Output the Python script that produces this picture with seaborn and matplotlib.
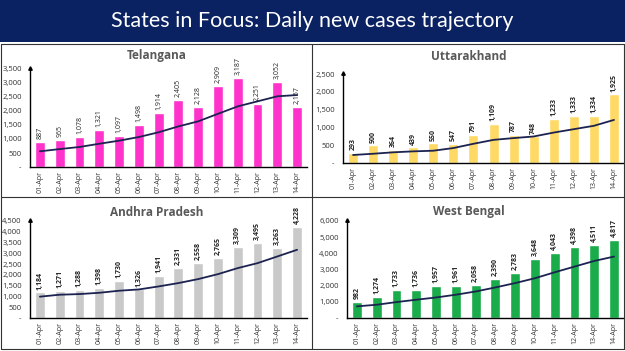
import numpy as np
import seaborn as sns
import matplotlib.pyplot as plt
from matplotlib.patches import Rectangle
from matplotlib.lines import Line2D
from matplotlib.ticker import FuncFormatter

sns.set_theme(style="white")
plt.rcParams["font.family"] = ["Open Sans", "DejaVu Sans"]

dates = ["01-Apr", "02-Apr", "03-Apr", "04-Apr", "05-Apr", "06-Apr", "07-Apr",
         "08-Apr", "09-Apr", "10-Apr", "11-Apr", "12-Apr", "13-Apr", "14-Apr"]

telangana = [887, 965, 1078, 1321, 1097, 1498, 1914, 2405, 2128, 2909, 3187, 2251, 3052, 2157]
telangana_trend = [560, 640, 715, 830, 940, 1070, 1240, 1450, 1630, 1900, 2165, 2345, 2525, 2570]

uttarakhand = [293, 500, 364, 439, 550, 547, 791, 1109, 787, 748, 1233, 1333, 1334, 1925]
uttarakhand_trend = [225, 260, 300, 327, 345, 420, 540, 650, 700, 745, 855, 950, 1045, 1210]

andhra = [1184, 1271, 1288, 1398, 1730, 1326, 1941, 2331, 2558, 2765, 3309, 3495, 3263, 4228]
andhra_trend = [990, 1080, 1110, 1170, 1265, 1325, 1465, 1620, 1805, 2035, 2315, 2545, 2855, 3165]

bengal = [982, 1274, 1733, 1736, 1957, 1961, 2058, 2390, 2783, 3648, 4043, 4398, 4511, 4817]
bengal_trend = [720, 820, 985, 1130, 1270, 1440, 1640, 1890, 2160, 2460, 2830, 3180, 3530, 3800]

W, H = 625, 351
fig = plt.figure(figsize=(6.25, 3.51), dpi=100)
fig.patch.set_facecolor("white")

# header band
fig.add_artist(Rectangle((0, 1 - 42 / H), 1, 42 / H, transform=fig.transFigure,
                         facecolor="#0b2262", edgecolor="none"))
fig.text(0.5, 1 - 21 / H, "States in Focus: Daily new cases trajectory", color="white",
         fontsize=15.5, ha="center", va="center", family=["Lato", "DejaVu Sans"])

# panel frame lines
def fline(x0, y0, x1, y1):
    fig.add_artist(Line2D([x0 / W, x1 / W], [1 - y0 / H, 1 - y1 / H],
                          transform=fig.transFigure, color="#333333", lw=0.8))

fline(1, 44, 624, 44)
fline(1, 44, 1, 349)
fline(624, 44, 624, 349)
fline(1, 349, 624, 349)
fline(312, 44, 312, 349)
fline(1, 197, 624, 197)

fmt = FuncFormatter(lambda v, p: "-" if v == 0 else f"{int(v):,}")

panels = [
    ("Telangana", telangana, telangana_trend, "#ff33cc", 3500, 500, False,
     (30, 167, 307, 69), (157, 56)),
    ("Uttarakhand", uttarakhand, uttarakhand_trend, "#ffd966", 2500, 500, True,
     (343, 163, 624, 74), (469, 56)),
    ("Andhra Pradesh", andhra, andhra_trend, "#c9c9c9", 4500, 500, True,
     (30, 318, 307, 221), (157, 212)),
    ("West Bengal", bengal, bengal_trend, "#1aab4b", 6000, 1000, True,
     (347, 318, 624, 221), (469, 211)),
]

for name, vals, trend, col, ymax, step, bold, box, tpos in panels:
    x0, yb, x1, yt = box
    ax = fig.add_axes([x0 / W, 1 - yb / H, (x1 - x0) / W, (yb - yt) / H])
    sns.barplot(x=dates, y=vals, color=col, saturation=1, width=0.5, ax=ax)
    sns.lineplot(x=np.arange(len(trend)), y=trend, color="#1c2350", lw=1.3, ax=ax)
    ax.set_xlim(-0.5, len(dates) - 0.5)
    ax.set_ylim(0, ymax)
    ax.set_yticks(np.arange(0, ymax + 1, step))
    ax.yaxis.set_major_formatter(fmt)
    ax.tick_params(axis="y", labelsize=5.5, length=0, pad=6, colors="#333333")
    ax.tick_params(axis="x", labelsize=5, length=0, pad=3, rotation=90, colors="#333333")
    ax.set_xlabel("")
    ax.set_ylabel("")
    for s in ["top", "right"]:
        ax.spines[s].set_visible(False)
    for s in ["left", "bottom"]:
        ax.spines[s].set_color("black")
        ax.spines[s].set_linewidth(1)
    ax.set_facecolor("none")
    ax.plot([0], [1.01], marker="^", color="black", ms=2.5, transform=ax.transAxes, clip_on=False)
    for i, v in enumerate(vals):
        ax.text(i, v + ymax * 0.03, f"{v:,}", rotation=90, ha="center", va="bottom",
                fontsize=5, fontweight="bold" if bold else "normal", color="#222222")
    fig.text(tpos[0] / W, 1 - tpos[1] / H, name, ha="center", va="center",
             fontsize=8.5, fontweight="bold", color="#595959")

fig.savefig("out.png", dpi=100)
